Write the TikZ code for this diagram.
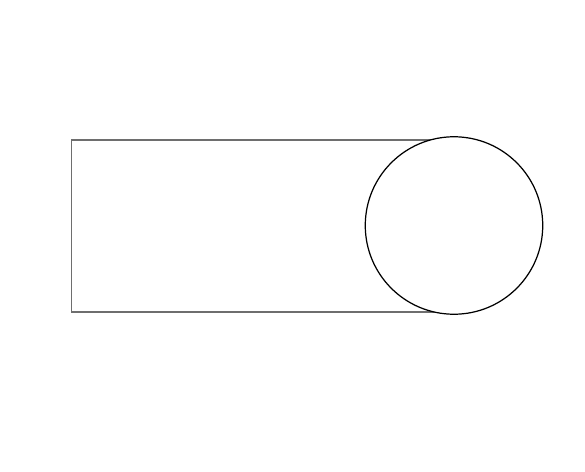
\documentclass[tikz,border=0pt]{standalone}
\usepackage{xcolor}
\usepackage{tikz}
\definecolor{framegray}{RGB}{110,110,110}

\begin{document}
\begin{tikzpicture}[x=0.02cm, y=0.02cm]
  \useasboundingbox (0, 0) rectangle (585, 471);
  \node[rectangle, draw=framegray, line width=0.6pt, minimum width=7.66cm, minimum height=3.44cm, inner sep=0pt] (slab) at (262.5, 245) {};
  \node[circle, draw=black, fill=white, line width=0.7pt, minimum size=3.55cm, inner sep=0pt] (roller) at (454, 245.5) {};
\end{tikzpicture}
\end{document}
